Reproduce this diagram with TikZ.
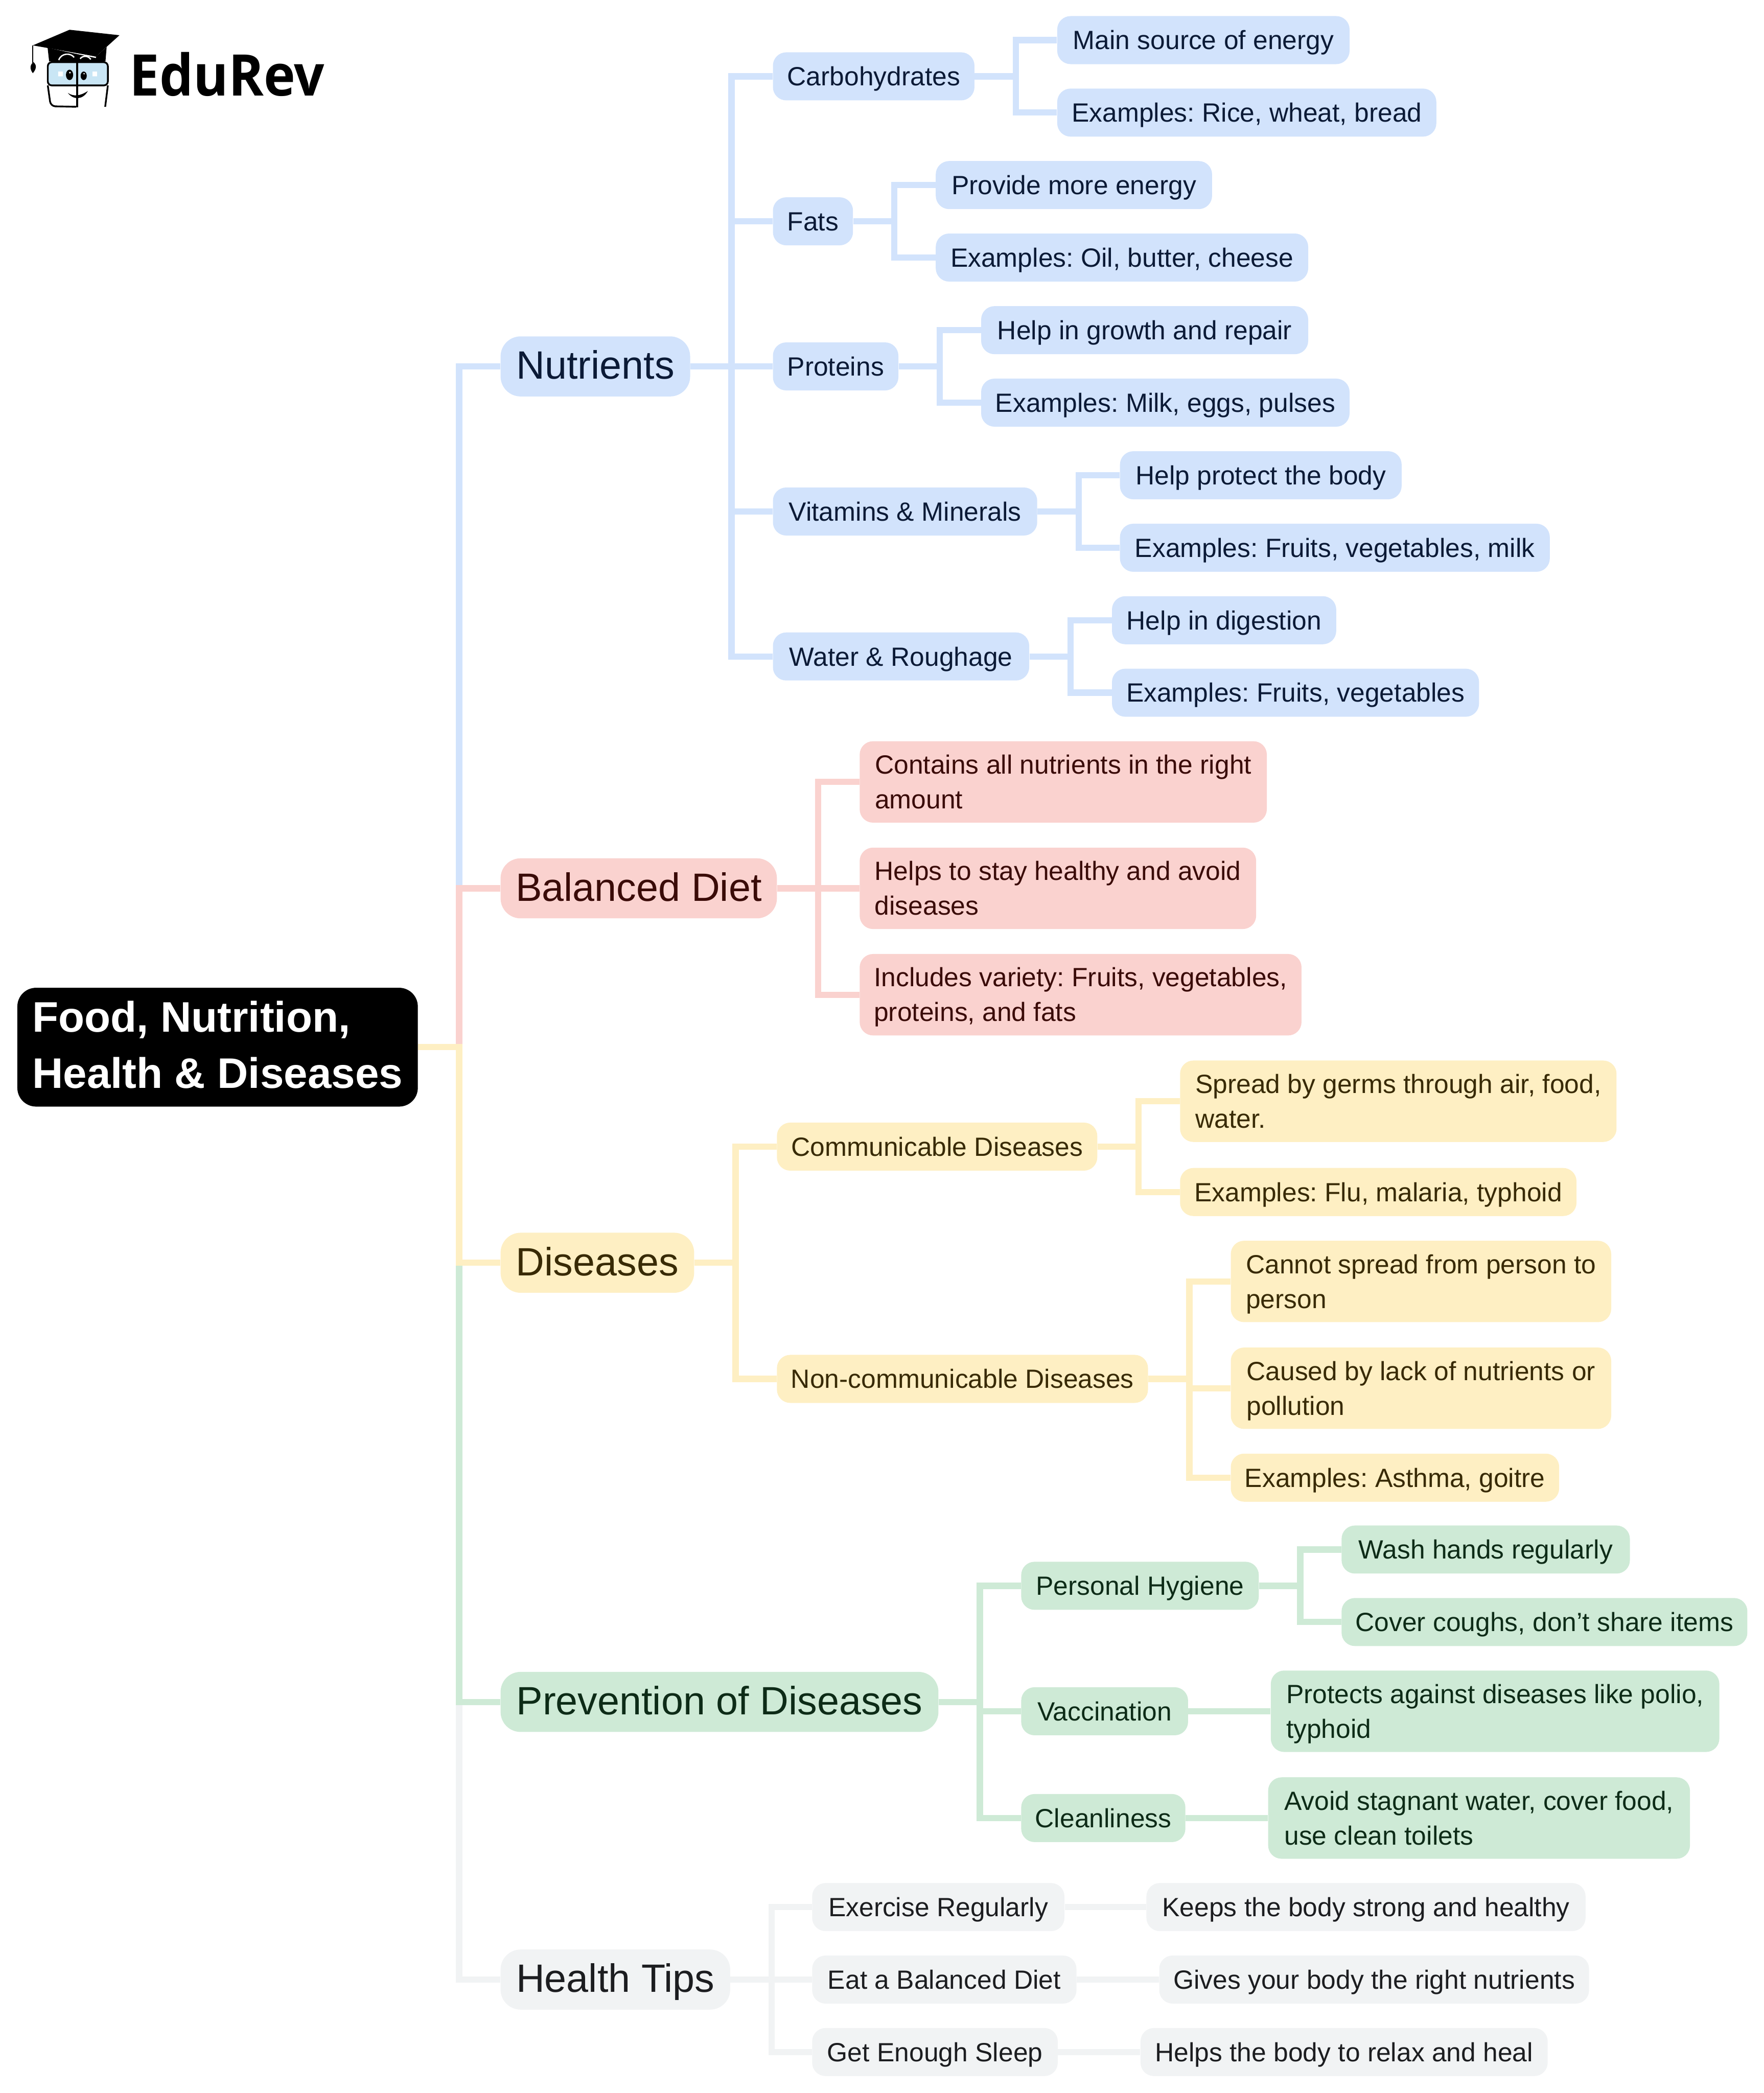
\documentclass[tikz,border=0pt]{standalone}
\usepackage{fontspec}
\setmainfont{Liberation Sans}
\newfontfamily\logofont{Open Sans}
\usetikzlibrary{positioning}
\frenchspacing
\definecolor{blueback}{HTML}{D2E3FC}
\definecolor{bluetext}{HTML}{0B1A36}
\definecolor{redback}{HTML}{FAD2CF}
\definecolor{redtext}{HTML}{3A0B08}
\definecolor{yellowback}{HTML}{FEEFC3}
\definecolor{yellowtext}{HTML}{382A05}
\definecolor{greenback}{HTML}{CEEAD6}
\definecolor{greentext}{HTML}{0D2B17}
\definecolor{greyback}{HTML}{F1F3F4}
\definecolor{greytext}{HTML}{1C1D20}
\definecolor{glassblue}{HTML}{C9E6F5}
\newcommand{\rootstrut}{\rule[-9pt]{0pt}{37pt}}
\newcommand{\itemstrut}{\rule[-6pt]{0pt}{26pt}}
\tikzset{
  rootnode/.style={fill=black,text=white,rounded corners=14pt,inner xsep=10pt,inner ysep=0pt,
    minimum height=89pt,align=left,font=\fontsize{32}{42}\selectfont\bfseries,
    execute at begin node=\rootstrut,execute at end node=\rootstrut},
  topic/.style={rounded corners=15pt,inner xsep=10pt,inner ysep=0pt,minimum height=45pt,
    text height=29pt,text depth=10pt,font=\fontsize{29.6}{36}\selectfont},
  item/.style={rounded corners=10pt,inner xsep=10pt,inner ysep=0pt,minimum height=36pt,
    align=left,font=\fontsize{19.75}{26}\selectfont,
    execute at begin node=\itemstrut,execute at end node=\itemstrut},
  twoline/.style={item,minimum height=61pt},
  bluenode/.style={fill=blueback,text=bluetext},
  rednode/.style={fill=redback,text=redtext},
  yellownode/.style={fill=yellowback,text=yellowtext},
  greennode/.style={fill=greenback,text=greentext},
  greynode/.style={fill=greyback,text=greytext},
  elbow/.style={line width=4.7pt,to path={-- ++(30.8pt,0) |- (\tikztotarget)}}
}
\begin{document}
\begin{tikzpicture}
\useasboundingbox (0,0) rectangle (1321.2pt,-1568pt);
% centre
\node[rootnode,minimum width=300pt] (root) at (163pt,-784.5pt) {\rootstrut Food, Nutrition,\\Health \& Diseases};
% nutrients
\node[topic,bluenode,minimum width=142pt] (nutr)[above right=510pt and 61.6pt of root.east,anchor=west] {Nutrients};
\node[item,bluenode,minimum width=151pt] (carb)[above right=217.3pt and 61.6pt of nutr.east,anchor=west] {Carbohydrates};
\node[item,bluenode,minimum width=60pt] (fats)[above right=108.7pt and 61.6pt of nutr.east,anchor=west] {Fats};
\node[item,bluenode,minimum width=94pt] (prot)[right=61.6pt of nutr] {Proteins};
\node[item,bluenode,minimum width=198pt] (vita)[below right=108.7pt and 61.6pt of nutr.east,anchor=west] {Vitamins \& Minerals};
\node[item,bluenode,minimum width=192pt] (watr)[below right=217.3pt and 61.6pt of nutr.east,anchor=west] {Water \& Roughage};
\node[item,bluenode,minimum width=219pt] (carba)[above right=27.15pt and 61.6pt of carb.east,anchor=west] {Main source of energy};
\node[item,bluenode,minimum width=284pt] (carbb)[below right=27.15pt and 61.6pt of carb.east,anchor=west] {Examples: Rice, wheat, bread};
\node[item,bluenode,minimum width=207pt] (fatsa)[above right=27.15pt and 61.6pt of fats.east,anchor=west] {Provide more energy};
\node[item,bluenode,minimum width=279pt] (fatsb)[below right=27.15pt and 61.6pt of fats.east,anchor=west] {Examples: Oil, butter, cheese};
\node[item,bluenode,minimum width=245pt] (prota)[above right=27.15pt and 61.6pt of prot.east,anchor=west] {Help in growth and repair};
\node[item,bluenode,minimum width=276pt] (protb)[below right=27.15pt and 61.6pt of prot.east,anchor=west] {Examples: Milk, eggs, pulses};
\node[item,bluenode,minimum width=211pt] (vitaa)[above right=27.15pt and 61.6pt of vita.east,anchor=west] {Help protect the body};
\node[item,bluenode,minimum width=322pt] (vitab)[below right=27.15pt and 61.6pt of vita.east,anchor=west] {Examples: Fruits, vegetables, milk};
\node[item,bluenode,minimum width=168pt] (watra)[above right=27.15pt and 61.6pt of watr.east,anchor=west] {Help in digestion};
\node[item,bluenode,minimum width=275pt] (watrb)[below right=27.15pt and 61.6pt of watr.east,anchor=west] {Examples: Fruits, vegetables};
% balanced diet
\node[topic,rednode,minimum width=207pt] (bal)[above right=119pt and 61.6pt of root.east,anchor=west] {Balanced Diet};
\node[twoline,rednode,minimum width=305pt] (bala)[above right=79.7pt and 61.6pt of bal.east,anchor=west] {\itemstrut Contains all nutrients in the right\\amount};
\node[twoline,rednode,minimum width=297pt] (balb)[right=61.6pt of bal] {\itemstrut Helps to stay healthy and avoid\\diseases};
\node[twoline,rednode,minimum width=331pt] (balc)[below right=79.7pt and 61.6pt of bal.east,anchor=west] {\itemstrut Includes variety: Fruits, vegetables,\\proteins, and fats};
% diseases
\node[topic,yellownode,minimum width=145pt] (dis)[below right=161.5pt and 61.6pt of root.east,anchor=west] {Diseases};
\node[item,yellownode,minimum width=240pt] (comm)[above right=87pt and 61.6pt of dis.east,anchor=west] {Communicable Diseases};
\node[item,yellownode,minimum width=278pt] (nonc)[below right=87pt and 61.6pt of dis.east,anchor=west] {Non-communicable Diseases};
\node[twoline,yellownode,minimum width=327pt] (comma)[above right=34pt and 61.6pt of comm.east,anchor=west] {\itemstrut Spread by germs through air, food,\\water.};
\node[item,yellownode,minimum width=297pt] (commb)[below right=34pt and 61.6pt of comm.east,anchor=west] {Examples: Flu, malaria, typhoid};
\node[twoline,yellownode,minimum width=285pt] (nonca)[above right=73pt and 61.6pt of nonc.east,anchor=west] {\itemstrut Cannot spread from person to\\person};
\node[twoline,yellownode,minimum width=285pt] (noncb)[below right=7pt and 61.6pt of nonc.east,anchor=west] {\itemstrut Caused by lack of nutrients or\\pollution};
\node[item,yellownode,minimum width=246pt] (noncc)[below right=74pt and 61.6pt of nonc.east,anchor=west] {Examples: Asthma, goitre};
% prevention
\node[topic,greennode,minimum width=328pt] (prev)[below right=490.5pt and 61.6pt of root.east,anchor=west] {Prevention of Diseases};
\node[item,greennode,minimum width=178pt] (hygn)[above right=87pt and 61.6pt of prev.east,anchor=west] {Personal Hygiene};
\node[item,greennode,minimum width=125pt] (vacc)[below right=7pt and 61.6pt of prev.east,anchor=west] {Vaccination};
\node[item,greennode,minimum width=123pt] (clen)[below right=87pt and 61.6pt of prev.east,anchor=west] {Cleanliness};
\node[item,greennode,minimum width=216pt] (hygna)[above right=27.15pt and 61.6pt of hygn.east,anchor=west] {Wash hands regularly};
\node[item,greennode,minimum width=304pt] (hygnb)[below right=27.15pt and 61.6pt of hygn.east,anchor=west] {Cover coughs, don’t share items};
\node[twoline,greennode,minimum width=336pt] (vacca)[right=61.6pt of vacc] {\itemstrut Protects against diseases like polio,\\typhoid};
\node[twoline,greennode,minimum width=316pt] (clena)[right=61.6pt of clen] {\itemstrut Avoid stagnant water, cover food,\\use clean toilets};
% tips
\node[topic,greynode,minimum width=172pt] (tips)[below right=698.5pt and 61.6pt of root.east,anchor=west] {Health Tips};
\node[item,greynode,minimum width=189pt] (exer)[above right=54.3pt and 61pt of tips.east,anchor=west] {Exercise Regularly};
\node[item,greynode,minimum width=198pt] (eatb)[right=61pt of tips] {Eat a Balanced Diet};
\node[item,greynode,minimum width=184pt] (slep)[below right=54.3pt and 61pt of tips.east,anchor=west] {Get Enough Sleep};
\node[item,greynode,minimum width=329pt] (exera)[right=61pt of exer] {Keeps the body strong and healthy};
\node[item,greynode,minimum width=322pt] (eatba)[right=61.6pt of eatb] {Gives your body the right nutrients};
\node[item,greynode,minimum width=305pt] (slepa)[right=61.6pt of slep] {Helps the body to relax and heal};
% connectors
\path[elbow,greyback](root.east) edge (tips.west)
                     (tips.east) edge (exer.west)
                                 edge (eatb.west)
                                 edge (slep.west)
                     (exer.east) edge (exera.west)
                     (eatb.east) edge (eatba.west)
                     (slep.east) edge (slepa.west);
\path[elbow,greenback](root.east) edge (prev.west)
                      (prev.east) edge (hygn.west)
                                  edge (vacc.west)
                                  edge (clen.west)
                      (hygn.east) edge (hygna.west)
                                  edge (hygnb.west)
                      (vacc.east) edge (vacca.west)
                      (clen.east) edge (clena.west);
\path[elbow,blueback](root.east) edge (nutr.west)
                     (nutr.east) edge (carb.west)
                                 edge (fats.west)
                                 edge (prot.west)
                                 edge (vita.west)
                                 edge (watr.west)
                     (carb.east) edge (carba.west)
                                 edge (carbb.west)
                     (fats.east) edge (fatsa.west)
                                 edge (fatsb.west)
                     (prot.east) edge (prota.west)
                                 edge (protb.west)
                     (vita.east) edge (vitaa.west)
                                 edge (vitab.west)
                     (watr.east) edge (watra.west)
                                 edge (watrb.west);
\path[elbow,redback](root.east) edge (bal.west)
                    (bal.east) edge (bala.west)
                               edge (balb.west)
                               edge (balc.west);
\path[elbow,yellowback](root.east) edge (dis.west)
                       (dis.east) edge (comm.west)
                                  edge (nonc.west)
                       (comm.east) edge (comma.west)
                                   edge (commb.west)
                       (nonc.east) edge (nonca.west)
                                   edge (noncb.west)
                                   edge (noncc.west);
% logo
\node[anchor=base west,inner sep=0pt,xscale=.93,transform shape,font=\fontsize{43}{43}\logofont\bfseries] (logo) at (97pt,-71.6pt) {EduRev};
\begin{scope}[x=1pt,y=-1pt]
\fill (35.6,35.2) -- (71.9,42.3) -- (79.9,35.2) -- (79,46) -- (36.8,46) -- cycle;
\draw[white,line width=1pt] (35.6,35.2) -- (71.9,43);
\draw[white,line width=1pt] (44,45) .. controls (46,39.5) and (53,39.5) .. (55.5,43);
\draw[white,line width=1pt] (60,44) .. controls (62,41.5) and (66,41.5) .. (68,44.5);
\fill (52.1,22.3) -- (89.5,26.4) -- (71.9,42.3) -- (24.6,34) -- cycle;
\draw[line width=.8pt] (24.6,34) -- (24.6,47);
\fill (25,46.5) .. controls (28,49) and (27,52) .. (24.6,54.8) .. controls (22.5,52) and (22,49) .. (25,46.5) -- cycle;
\draw[line width=1.3pt,fill=glassblue,rounded corners=3pt] (35.8,46.6) rectangle (80.8,64);
\draw[line width=1.3pt,rounded corners=3.5pt] (57,80) -- (38,79.6) -- (35.8,64);
\draw[line width=1.3pt,rounded corners=3.5pt] (80.8,64) -- (78.8,80);
\draw[line width=1.6pt] (57.9,45.8) -- (57.9,80.4);
\fill (52.1,56.1) ellipse [x radius=2.7pt,y radius=3.9pt];
\fill (62.7,56.8) ellipse [x radius=2.3pt,y radius=3.2pt];
\fill[white] (52.4,54.4) circle [radius=.7pt] (63,55.2) circle [radius=.6pt];
\fill[white] (43.6,53.6) rectangle (47,57.2) (69.3,53.6) rectangle (72.7,57.2);
\fill (50.8,69.6) .. controls (55,72.5) and (60,72) .. (65.8,68.2) .. controls (62,75) and (55,75) .. (50.8,69.6) -- cycle;
\end{scope}
\end{tikzpicture}
\end{document}
